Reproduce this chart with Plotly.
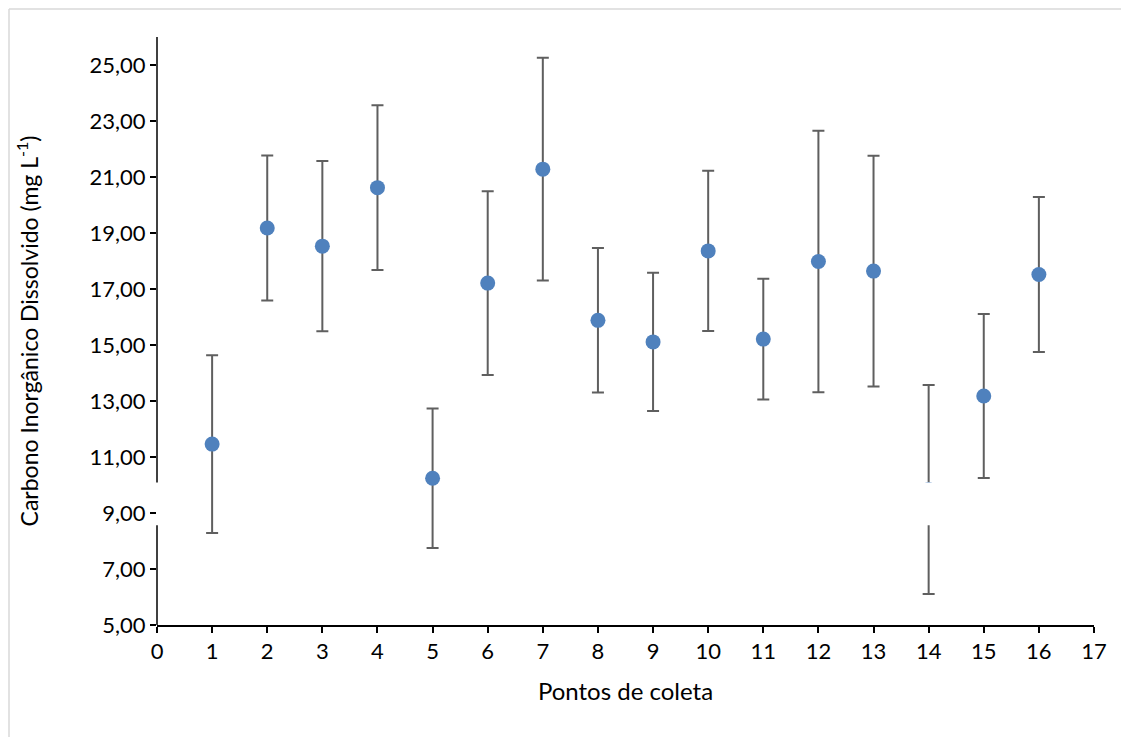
import plotly.graph_objects as go

pontos = list(range(1, 17))
media = [11.46, 19.18, 18.53, 20.62, 10.24, 17.21, 21.28, 15.88,
         15.11, 18.36, 15.21, 17.98, 17.64, 9.84, 13.18, 17.52]
erro = [3.17, 2.59, 3.04, 2.94, 2.49, 3.28, 3.98, 2.58,
        2.47, 2.86, 2.16, 4.67, 4.12, 3.73, 2.93, 2.77]

x_ticks = list(range(0, 18))
y_ticks = [5, 7, 9, 11, 13, 15, 17, 19, 21, 23, 25]
y_range = [5, 26]
x_range = [0, 17]
# white gap band seen in the original image
gap_lo, gap_hi = 8.56, 10.09
gap_point = 14

FONT = "Lato"
L, R, T, B = 149, 43, 29, 120
W, H = 1129, 737
pw, ph = W - L - R, H - T - B

fig = go.Figure()
fig.add_trace(go.Scatter(
    x=pontos, y=media, mode="markers",
    marker=dict(color="#4f81bd", size=15, line=dict(width=0)),
    error_y=dict(type="data", array=erro, visible=True,
                 color="#5f5f5f", thickness=2, width=6),
    showlegend=False, cliponaxis=False,
))

bx0 = -(L - 1) / pw
by1 = 1 + (T - 1) / ph
shapes = [
    dict(type="line", xref="paper", yref="y", x0=0, x1=0, y0=y_range[0], y1=gap_lo,
         line=dict(color="black", width=1.5)),
    dict(type="line", xref="paper", yref="y", x0=0, x1=0, y0=gap_hi, y1=y_range[1],
         line=dict(color="black", width=1.5)),
    dict(type="rect", xref="x", yref="y", x0=gap_point - 0.2, x1=gap_point + 0.2,
         y0=gap_lo, y1=gap_hi, fillcolor="white", line=dict(width=0), layer="above"),
    # outer chart border (top and left edges only are visible)
    dict(type="line", xref="paper", yref="paper", x0=bx0, x1=1 + (R + 10) / pw,
         y0=by1, y1=by1, line=dict(color="#d9d9d9", width=1.5)),
    dict(type="line", xref="paper", yref="paper", x0=bx0, x1=bx0,
         y0=-(B + 10) / ph, y1=by1, line=dict(color="#d9d9d9", width=1.5)),
]

fig.update_layout(
    width=W, height=H,
    margin=dict(l=L, r=R, t=T, b=B),
    paper_bgcolor="white", plot_bgcolor="white",
    separators=",.",
    font=dict(family=FONT, color="black", size=22),
    shapes=shapes,
    xaxis=dict(
        range=x_range, tickvals=x_ticks, showgrid=False, zeroline=False,
        showline=True, linecolor="black", linewidth=1.5,
        ticks="outside", ticklen=6, tickcolor="black", tickwidth=1.5,
        tickfont=dict(size=22, family=FONT),
        title=dict(text="Pontos de coleta", font=dict(size=24, family=FONT), standoff=20),
    ),
    yaxis=dict(
        range=y_range, tickvals=y_ticks, tickformat=".2f", showgrid=False, zeroline=False,
        showline=False,
        ticks="outside", ticklen=6, tickcolor="black", tickwidth=1.5,
        tickfont=dict(size=22, family=FONT),
        title=dict(text="Carbono Inorgânico Dissolvido (mg L<sup>-1</sup>)",
                   font=dict(size=23, family=FONT), standoff=44),
    ),
)

fig.write_html("out.html")
